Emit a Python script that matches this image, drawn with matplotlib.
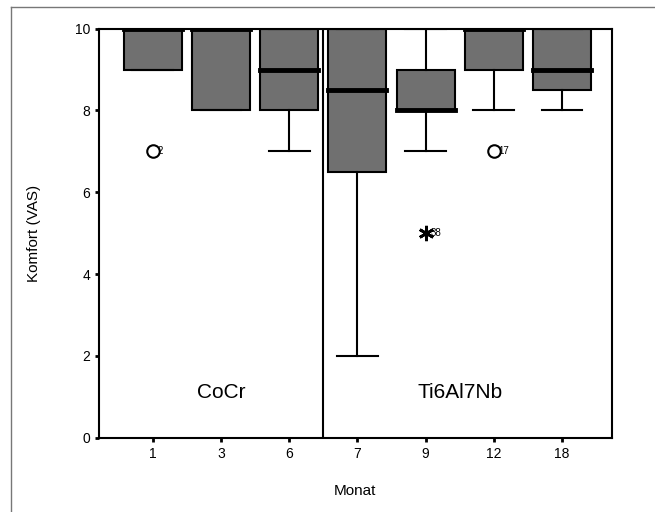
import matplotlib
matplotlib.use('Agg')
from matplotlib import pyplot as plt
from matplotlib.lines import Line2D

# Monat categories and box statistics (Komfort VAS)
months = ['1', '3', '6', '7', '9', '12', '18']
q1 = [9, 8, 8, 6.5, 8, 9, 8.5]
med = [10, 10, 9, 8.5, 8, 10, 9]
q3 = [10, 10, 10, 10, 9, 10, 10]
whislo = [9, 8, 7, 2, 7, 8, 8]
whishi = [10, 10, 10, 10, 10, 10, 10]

# outliers (circle) and extremes (star), with case numbers
out_pos = [1, 6]
out_val = [7, 7]
out_lab = ['2', '17']
ext_pos = [5]
ext_val = [5]
ext_lab = ['38']

groups = ['CoCr', 'Ti6Al7Nb']

plt.rcParams['font.family'] = ['Liberation Sans', 'DejaVu Sans']

fig = plt.figure(figsize=(6.55, 5.12), dpi=100)
ax = fig.add_axes([0.151, 0.145, 0.783, 0.799])

stats = []
for i in range(len(months)):
    stats.append({'q1': q1[i], 'med': med[i], 'q3': q3[i],
                  'whislo': whislo[i], 'whishi': whishi[i], 'fliers': []})

ax.bxp(stats, positions=range(1, len(months) + 1), widths=0.85,
       patch_artist=True, showfliers=False,
       boxprops=dict(facecolor='#707070', edgecolor='black', linewidth=1.5),
       medianprops=dict(color='black', linewidth=3.5, solid_capstyle='projecting'),
       whiskerprops=dict(color='black', linewidth=1.5),
       capprops=dict(color='black', linewidth=1.5), capwidths=0.6)

ax.plot(out_pos, out_val, 'o', mfc='white', mec='black', ms=9, mew=1.5, zorder=5)
ax.plot(ext_pos, ext_val, ls='none', marker=(6, 2, 0), color='black', ms=11, mew=2, zorder=5)
for p, v, t in zip(out_pos + ext_pos, out_val + ext_val, out_lab + ext_lab):
    ax.text(p + 0.07, v, t, fontsize=7, va='center', ha='left')

# divider between the two alloy groups
ax.axvline(3.5, color='black', linewidth=1.5)
ax.text(2, 1.1, groups[0], fontsize=15, ha='center', va='center')
ax.text(5.5, 1.1, groups[1], fontsize=15, ha='center', va='center')

ax.set_xlim(0.21, 7.73)
ax.set_ylim(0, 10)
ax.set_xticks(range(1, len(months) + 1))
ax.set_xticklabels(months)
ax.set_yticks([0, 2, 4, 6, 8, 10])
ax.tick_params(direction='out', length=3, width=2, labelsize=10)
for s in ax.spines.values():
    s.set_linewidth(1.5)

ax.set_xlabel('Monat', fontsize=11, labelpad=17)
ax.set_ylabel('Komfort (VAS)', fontsize=11, labelpad=24)

# outer frame lines (top and left)
fig.add_artist(Line2D([0.017, 1], [0.986, 0.986], color='#777777', linewidth=1))
fig.add_artist(Line2D([0.017, 0.017], [0, 0.986], color='#777777', linewidth=1))

plt.savefig('out.png', dpi=100)
